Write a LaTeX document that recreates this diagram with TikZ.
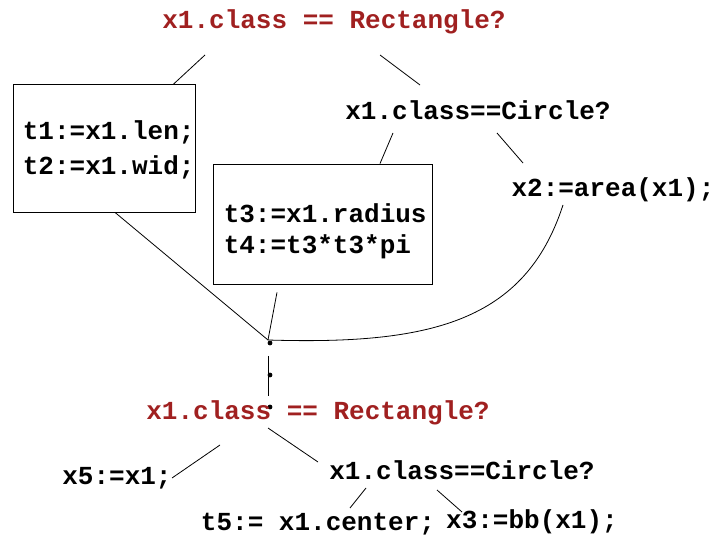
\documentclass[tikz,border=0pt]{standalone}
\usepackage{fontspec}
\setmonofont{Liberation Mono}
\usepackage{xcolor}
\usepackage{tikz}
\definecolor{condred}{RGB}{160,32,32}

\begin{document}
\begin{tikzpicture}[
    x=0.75pt, y=-0.75pt,
    code/.style={inner sep=0pt, font=\fontsize{19.5}{23}\selectfont\ttfamily\bfseries},
    cond/.style={code, text=condred},
    block/.style={code, draw, line width=0.6pt},
    edge/.style={line width=0.6pt},
    dot/.style={circle, fill, inner sep=0pt, minimum size=3.6pt}
]
\useasboundingbox (0,0) rectangle (718,538);

\node[cond] at (334,22) (rect1) {x1.class == Rectangle?};
\node[block, minimum width=136.5pt, minimum height=96pt] at (104,148) (box1)
    {\begin{tabular}{@{\hspace{7pt}}l@{}}\noalign{\vspace{4pt}}t1:=x1.len;\\[3pt]t2:=x1.wid;\end{tabular}};
\node[code] at (478,110) (circ1) {x1.class==Circle?};
\node[block, minimum width=164.25pt, minimum height=90pt] at (322.5,224) (box2)
    {\begin{tabular}{@{\hspace{5pt}}l@{\hspace{1pt}}}\noalign{\vspace{12pt}}t3:=x1.radius\\t4:=t3*t3*pi\end{tabular}};
\node[code] at (613,190) (area) {x2:=area(x1);};

\node[dot] at (270,343) (d1) {};
\node[dot] at (270,375) (d2) {};
\node[dot] at (270,407) (d3) {};

\node[cond] at (318,413) (rect2) {x1.class == Rectangle?};
\node[code] at (117,478) (copy) {x5:=x1;};
\node[code] at (462,470) (circ2) {x1.class==Circle?};
\node[code] at (318,524) (center) {t5:= x1.center;};
\node[code] at (532,522) (bb) {x3:=bb(x1);};

\draw[edge] ([shift={(-129,33)}]rect1.center) -- ([shift={(69,1)}]box1.north);
\draw[edge] ([shift={(46,33)}]rect1.center) -- ([shift={(-58,-25)}]circ1.center);
\draw[edge] ([shift={(-85,23)}]circ1.center) -- ([shift={(57.5,0)}]box2.north);
\draw[edge] ([shift={(19,23)}]circ1.center) -- ([shift={(-90,-27)}]area.center);
\draw[edge] ([shift={(11,0)}]box1.south) -- ([shift={(-2,-3)}]d1.center);
\draw[edge] ([shift={(-45.5,8)}]box2.south) -- ([shift={(-2,-3)}]d1.center);
\draw[edge] ([shift={(-50,15)}]area.center) .. controls (525,322) and (430,345) .. ([shift={(-2,-3)}]d1.center);
\draw[edge] ([shift={(-2,13)}]d1.center) -- ([shift={(-2,-11)}]d3.center);

\draw[edge] ([shift={(-98,32)}]rect2.center) -- ([shift={(55,0)}]copy.center);
\draw[edge] ([shift={(-50,15)}]rect2.center) -- ([shift={(-144,-8)}]circ2.center);
\draw[edge] ([shift={(-96,18)}]circ2.center) -- ([shift={(32,-16)}]center.center);
\draw[edge] ([shift={(-25,20)}]circ2.center) -- ([shift={(-70,-10)}]bb.center);
\end{tikzpicture}
\end{document}
